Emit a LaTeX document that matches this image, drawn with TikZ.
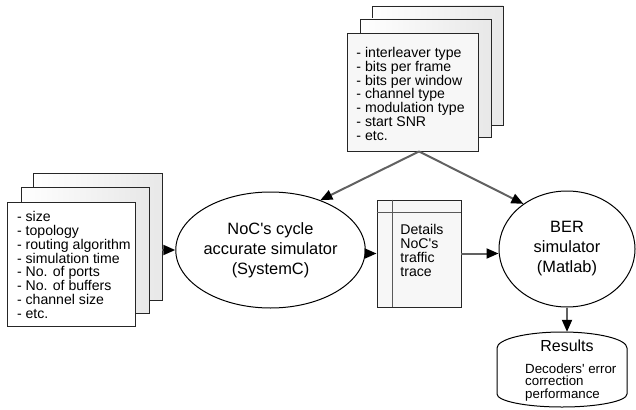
\documentclass[tikz,border=0pt]{standalone}
\usepackage{fontspec}
\setmainfont{Liberation Sans}[Ligatures=TeXOff]
\usetikzlibrary{arrows.meta,shapes.geometric,calc}
\begin{document}
\begin{tikzpicture}[x=1pt,y=-1pt,
  box/.style={draw=black!85,line width=0.9pt,rectangle,inner sep=0pt},
  backbox/.style={box,left color=white,right color=black!9},
  ell/.style={draw=black,line width=1pt,ellipse,inner sep=0pt,fill=white,font=\fontsize{16.4}{20}\selectfont,align=center},
  lst/.style={inner sep=0pt,anchor=west,align=left,font=\fontsize{14.1}{13.8}\selectfont},
  conn/.style={draw=black!62,line width=2pt,-{Triangle[length=12pt,width=10pt,color=black,fill=black]}},
]
\useasboundingbox (0,0) rectangle (636,409);

% left stack
\node[backbox,minimum width=129pt,minimum height=127pt] (lback) at (97.5,236.5) {};
\node[backbox,minimum width=128pt,minimum height=126pt] (lmid) at (85,250) {};
\node[box,fill=white,minimum width=128pt,minimum height=124pt] (lfront) at (71,264) {};
\node[lst] (ltext) at ($(lfront.west)+(10.3,1)$) {- size\\- topology\\- routing algorithm\\- simulation time\\- No. of ports\\- No. of buffers\\- channel size\\- etc.};

% top stack
\node[backbox,minimum width=131pt,minimum height=119pt] (tback) at (437.5,65.5) {};
\node[backbox,minimum width=131pt,minimum height=118pt] (tmid) at (425.5,78) {};
\node[box,fill=black!3,minimum width=131pt,minimum height=118pt] (tfront) at (412.5,92) {};
\node[lst] (ttext) at ($(tfront.west)+(9.7,1.8)$) {- interleaver type\\- bits per frame\\- bits per window\\- channel type\\- modulation type\\- start SNR\\- etc.};

% ellipses
\node[ell,minimum width=143pt,minimum height=116pt] (noc) at (270.5,250) {NoC's cycle\\accurate simulator\\(SystemC)};
\node[ell,minimum width=136pt,minimum height=116pt] (ber) at (567,249) {BER\\simulator\\(Matlab)};

% trace
\node[box,fill=black!3,minimum width=84pt,minimum height=107pt] (trace) at (419,253.5) {};
\draw[black!65,line width=0.6pt] ($(trace.north west)+(16,0)$) -- ($(trace.south west)+(16,0)$);
\draw[black!65,line width=0.6pt] ($(trace.north west)+(0,13)$) -- ($(trace.north east)+(0,13)$);
\node[lst] (ttrace) at ($(trace.west)+(23.7,-3)$) {Details\\NoC's\\traffic\\trace};

% results cylinder
\node[minimum width=130pt,minimum height=76pt,inner sep=0pt] (db) at (562,370) {};
\draw[black,line width=1pt,fill=white] (497,348) arc[start angle=180,end angle=0,x radius=65pt,y radius=16pt] -- (627,394) arc[start angle=0,end angle=-180,x radius=65pt,y radius=13pt] -- cycle;
\node[inner sep=0pt,font=\fontsize{16}{18}\selectfont] (restitle) at (567,346) {Results};
\node[lst,font=\fontsize{13.3}{12.9}\selectfont] (resbody) at (525,382.5) {Decoders' error\\correction\\performance};

% connectors
\coordinate (apex) at ($(tfront.south)+(6.5,0)$);
\draw[conn] (apex) -- (noc.45);
\draw[conn] (apex) -- (ber.134);
\draw[conn] (lback.east |- noc.west) -- (noc.west);
\draw[conn] (trace.west -| noc.east) -- (trace.west);
\draw[conn] (trace.east) -- (trace.east -| ber.west);
\draw[conn] (ber.south) -- (ber.south |- db.north);
\end{tikzpicture}
\end{document}
